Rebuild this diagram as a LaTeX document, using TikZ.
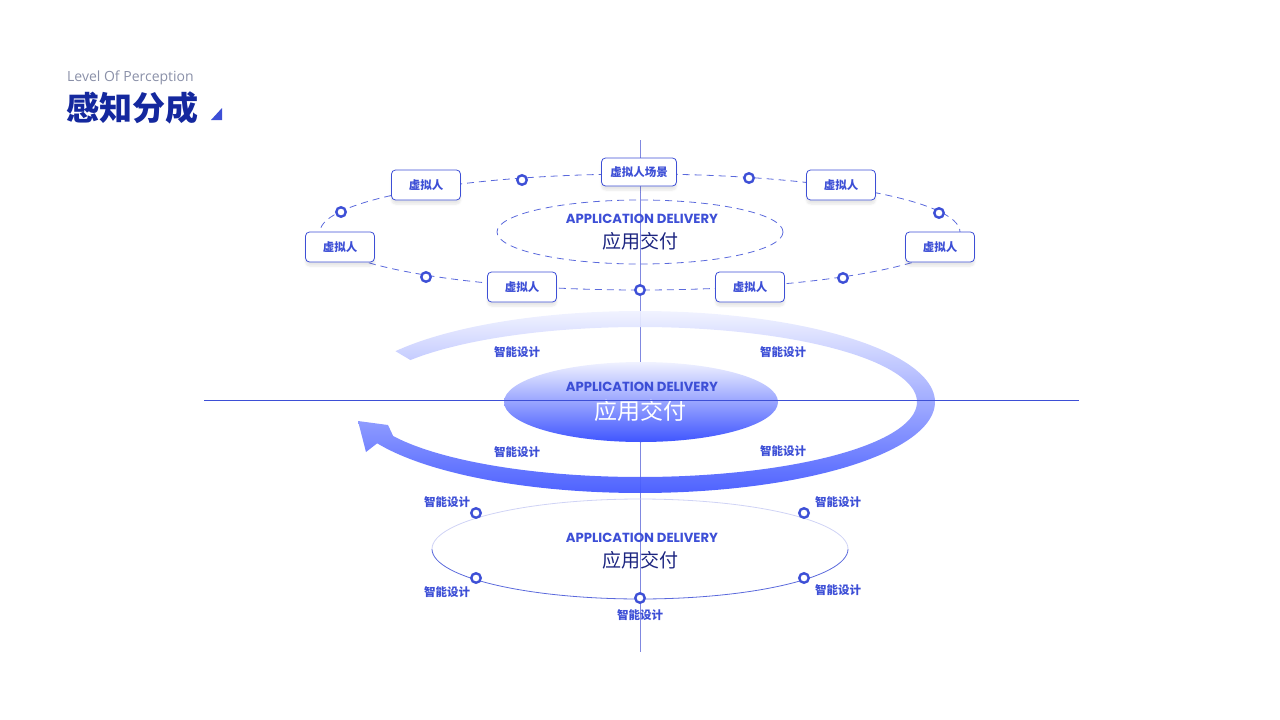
\documentclass[tikz,border=0pt]{standalone}
\usepackage{fontspec}
\setmainfont{Open Sans}
\newfontfamily\cjk{Noto Sans CJK SC}
\newfontfamily\popfont{Poppins}
\usepackage{tikz}
\usetikzlibrary{shapes.geometric, shadows.blur}

\definecolor{navy}{HTML}{14289E}
\definecolor{accent}{HTML}{3D4FD6}
\definecolor{ink}{HTML}{1C2580}
\definecolor{greytxt}{HTML}{8A90A8}
\definecolor{axisblue}{HTML}{8088E0}
\definecolor{bandtop}{HTML}{F0F2FF}
\definecolor{bandbot}{HTML}{3F55FF}

\newcommand{\fs}[1]{\fontsize{#1}{#1}\selectfont}

\tikzset{
    vbox/.style={rectangle, draw=accent, line width=0.8pt, fill=white, rounded corners=4pt,
        minimum width=69pt, minimum height=30pt, inner sep=0pt,
        font=\cjk\bfseries\fs{11.5}, text=accent,
        blur shadow={shadow xshift=0pt, shadow yshift=-4pt, shadow blur steps=6, shadow opacity=10}},
    dot/.style={circle, draw=accent, line width=2.4pt, fill=white, inner sep=0pt, minimum size=9.5pt},
    tag/.style={font=\cjk\bfseries\fs{11.5}, text=accent, inner sep=1pt},
    eng/.style={font=\popfont\bfseries\fs{13.2}, text=accent, inner sep=0pt},
    cn/.style={font=\cjk\fs{19}, text=ink, inner sep=0pt},
    orbit/.style={draw=accent!85, line width=0.8pt, dash pattern=on 7pt off 5pt}
}

\begin{document}
\begin{tikzpicture}[x=1pt, y=-1pt]
    \useasboundingbox (0,0) rectangle (1280,720);

    % title
    \node[anchor=west, font=\fs{14}, text=greytxt, inner sep=0pt] (subtitle) at (67,78) {Level Of Perception};
    \node[anchor=west, font=\cjk\bfseries\fs{33}, text=navy, inner sep=0pt] (title) at (66,108) {感知分成};
    \fill[accent] (222,108) -- (222,120) -- (211,120) -- cycle;

    % axis
    \coordinate (v-top) at (640,140);
    \coordinate (v-bot) at (640,652);
    \draw[axisblue, line width=0.7pt] (v-top) -- (v-bot);

    % top orbit
    \draw[orbit] (640,232) ellipse [x radius=320, y radius=58];
    \draw[orbit] (640,232) ellipse [x radius=143, y radius=32];
    \node[eng] (top-en) at (642,219) {APPLICATION DELIVERY};
    \node[cn] (top-cn) at (640,241) {应用交付};

    \node[vbox, minimum width=75pt, minimum height=28pt] (scene) at (639,172) {虚拟人场景};
    \node[vbox] (vp-tl) at (426,185) {虚拟人};
    \node[vbox] (vp-tr) at (841,185) {虚拟人};
    \node[vbox] (vp-l) at (340,247) {虚拟人};
    \node[vbox] (vp-r) at (940,247) {虚拟人};
    \node[vbox] (vp-bl) at (522,287) {虚拟人};
    \node[vbox] (vp-br) at (750,287) {虚拟人};

    % dots, top orbit
    \node[dot] (o1) at (522,180) {};
    \node[dot] (o2) at (749,178) {};
    \node[dot] (o3) at (341,212) {};
    \node[dot] (o4) at (939,213) {};
    \node[dot] (o5) at (426,277) {};
    \node[dot] (o6) at (843,278) {};
    \node[dot] (o7) at (640,290) {};

    % spiral arrow
    \shade[top color=bandtop, bottom color=bandbot, opacity=0.92]
        plot[smooth, domain=214:513, samples=80] ({640+295*cos(\x)},{402+91*sin(\x)})
        -- (366,452) -- (358,421) -- (388,425)
        -- plot[smooth, domain=513:214, samples=80] ({640+277*cos(\x)},{402+75*sin(\x)})
        -- cycle;

    % center core
    \node[ellipse, minimum width=274pt, minimum height=80pt, top color=bandtop, bottom color=bandbot] (core) at (641,402) {};
    \node[eng] (core-en) at (642,387) {APPLICATION DELIVERY};
    \node[cn, text=white, font=\cjk\fs{23}] (core-cn) at (640,411) {应用交付};
    \coordinate (h-left) at (204,400);
    \coordinate (h-right) at (1079,400);
    \draw[accent, line width=0.8pt] (h-left) -- (h-right);

    % labels round the arrow
    \node[tag] (t1) at (517,352) {智能设计};
    \node[tag] (t2) at (783,352) {智能设计};
    \node[tag] (t3) at (517,452) {智能设计};
    \node[tag] (t4) at (783,451) {智能设计};

    % bottom orbit
    \draw[accent!25, line width=0.8pt] plot[smooth, domain=180:360, samples=60] ({640+208*cos(\x)},{549+50*sin(\x)});
    \draw[accent!85, line width=0.8pt] plot[smooth, domain=0:180, samples=60] ({640+208*cos(\x)},{549+50*sin(\x)});
    \node[eng] (low-en) at (642,538) {APPLICATION DELIVERY};
    \node[cn] (low-cn) at (640,560) {应用交付};

    % dots, bottom orbit
    \node[dot] (p1) at (476,513) {};
    \node[dot] (p2) at (804,513) {};
    \node[dot] (p3) at (476,578) {};
    \node[dot] (p4) at (804,578) {};
    \node[dot] (p5) at (640,598) {};
    \node[tag] (b1) at (447,502) {智能设计};
    \node[tag] (b2) at (838,502) {智能设计};
    \node[tag] (b3) at (447,592) {智能设计};
    \node[tag] (b4) at (838,590) {智能设计};
    \node[tag] (b5) at (640,615) {智能设计};
\end{tikzpicture}
\end{document}
